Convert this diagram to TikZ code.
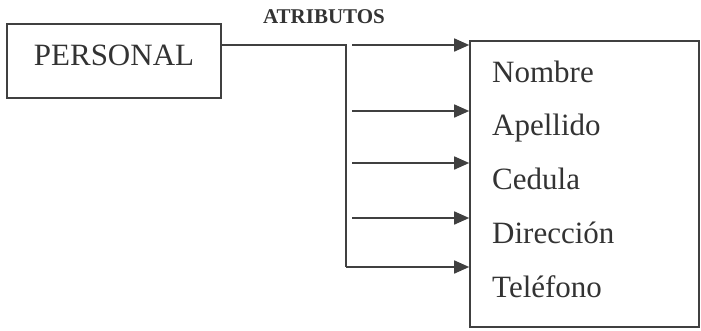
\documentclass[tikz,border=0pt]{standalone}
\usepackage{fontspec}
\setmainfont{Liberation Serif}
\usetikzlibrary{positioning}
\usetikzlibrary{arrows.meta}

\begin{document}
\begin{tikzpicture}[x=1pt,y=-1pt,
		caja/.style={draw=black!75,line width=1.6pt,inner sep=0pt},
		linea/.style={draw=black!75,line width=1.6pt},
		flecha/.style={linea,-{Triangle[length=15pt,width=13pt]}},
		campo/.style={anchor=base west,inner sep=0pt,text=black!80,font=\fontsize{31}{31}\selectfont}]
		\useasboundingbox (0,0) rectangle (701,330);
		\node[caja,minimum width=214pt,text height=41pt,text depth=33pt,text=black!80,
		font=\fontsize{31}{31}\selectfont] (personal) at (114,61) {PERSONAL\hspace{6pt}};
		\node[text=black!80,font=\fontsize{21}{21}\selectfont\bfseries] (titulo) at (324,17) {ATRIBUTOS};
		\node[caja,minimum width=229pt,minimum height=286pt] (atributos) at (584.5,184) {};
		\node[campo] (nombre) at (492,82) {Nombre};
		\node[campo] (apellido) at (492,135) {Apellido};
		\node[campo] (cedula) at (492,189) {Cedula};
		\node[campo] (direccion) at (492,243) {Dirección};
		\node[campo] (telefono) at (492,297) {Teléfono};
		\coordinate (codo) at (346,45);
		\coordinate (pie) at (346,267);
		\draw[linea] (personal.east |- codo) -- (codo) -- (pie);
		\draw[flecha] (pie) -- (pie -| atributos.west);
		\foreach \y/\n in {45/1,111/2,163/3,218/4} {
			\coordinate (t\n) at (352,\y);
			\draw[flecha] (t\n) -- (t\n -| atributos.west);
		}
	\end{tikzpicture}
\end{document}
